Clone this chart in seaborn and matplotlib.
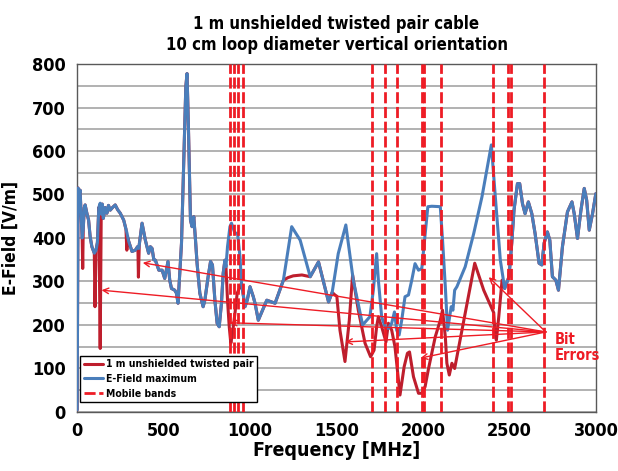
import numpy as np
import matplotlib
matplotlib.use("Agg")
import matplotlib.pyplot as plt
from matplotlib import font_manager as fm
import seaborn as sns

# E-field maximum (blue curve)
blue_freq = [1, 6, 12, 18, 24, 30, 36, 42, 47, 57, 67, 76, 86, 100, 110, 118, 126, 134, 140,
             146, 152, 163, 173, 182, 192, 205, 221, 235, 250, 270, 289, 299, 318, 337, 350,
             357, 376, 395, 414, 424, 434, 444, 453, 473, 492, 507, 526, 536, 546, 565, 575,
             584, 604, 617, 629, 636, 644, 656, 665, 675, 685, 694, 710, 729, 739, 758, 772,
             783, 797, 810, 822, 835, 845, 855, 861, 870, 884, 893, 913, 928, 942, 951, 971,
             984, 1000, 1019, 1029, 1048, 1097, 1145, 1193, 1241, 1290, 1348, 1396, 1454,
             1475, 1510, 1554, 1597, 1651, 1693, 1713, 1732, 1742, 1761, 1780, 1800, 1819,
             1835, 1848, 1862, 1877, 1896, 1916, 1935, 1954, 1974, 1993, 2009, 2028, 2051,
             2100, 2113, 2129, 2142, 2154, 2163, 2173, 2183, 2196, 2244, 2293, 2341, 2395,
             2418, 2447, 2472, 2497, 2513, 2526, 2546, 2559, 2575, 2590, 2609, 2629, 2648,
             2671, 2687, 2700, 2719, 2733, 2748, 2768, 2783, 2806, 2835, 2861, 2874, 2893,
             2913, 2932, 2946, 2961, 2980, 2999]
blue_vals = [5, 515, 500, 510, 450, 400, 420, 470, 476, 457, 441, 403, 380, 365, 372, 390, 470,
             480, 455, 478, 445, 470, 457, 475, 464, 470, 476, 465, 457, 441, 411, 392, 369,
             372, 380, 376, 434, 395, 365, 380, 376, 350, 349, 326, 326, 307, 346, 303, 284,
             280, 273, 250, 388, 579, 748, 778, 656, 441, 426, 449, 395, 342, 273, 242, 257,
             311, 346, 338, 257, 204, 196, 250, 319, 349, 334, 380, 426, 434, 411, 411, 357,
             296, 242, 257, 288, 265, 250, 211, 257, 250, 303, 426, 395, 311, 345, 253, 275,
             364, 430, 303, 200, 219, 280, 364, 303, 219, 196, 192, 204, 230, 188, 177, 211,
             265, 269, 303, 341, 326, 330, 395, 472, 473, 472, 395, 288, 188, 219, 242, 234,
             280, 288, 334, 410, 495, 614, 495, 349, 284, 311, 388, 464, 525, 525, 479, 456,
             483, 456, 410, 342, 338, 388, 414, 395, 311, 303, 280, 380, 460, 483, 456, 399,
             464, 514, 487, 418, 456, 502]

# Twisted pair curve: where it leaves the E-field maximum
dip_freqs = [
    [30, 33, 36],
    [100, 104, 110],
    [126, 134, 140],
    [283, 288, 294],
    [352, 355, 360],
    [861, 870, 880, 889, 899, 913, 926, 942, 951],
    [1193, 1220, 1250, 1300, 1348],
    [1454, 1475, 1491, 1502, 1520, 1549, 1574, 1593, 1626, 1665, 1697, 1717, 1732, 1742,
     1761, 1786, 1800, 1819, 1838, 1867, 1891, 1910, 1922, 1945, 1974, 1993, 2012, 2032,
     2071, 2100, 2113, 2129, 2138, 2152, 2167, 2183, 2244, 2299, 2351, 2409, 2415, 2424,
     2438, 2457, 2472],
]
dip_vals = [
    [400, 330, 420],
    [365, 242, 372],
    [470, 146, 455],
    [420, 372, 400],
    [379, 310, 385],
    [334, 257, 196, 158, 181, 227, 273, 288, 296],
    [303, 309, 313, 315, 311],
    [253, 275, 269, 266, 188, 116, 211, 315, 234, 158, 127, 142, 196, 219, 196, 161, 204,
     188, 150, 39, 104, 135, 138, 81, 43, 43, 58, 100, 173, 211, 234, 173, 112, 85, 112,
     100, 227, 342, 280, 228, 188, 165, 219, 303, 284],
]

mobile_bands = [885, 907, 933, 958, 1705, 1783, 1847, 1992, 2006, 2103, 2405, 2492, 2510, 2702]

bit_errors = [(380, 343), (142, 280), (884, 205), (1551, 161), (1986, 124), (2380, 310)]
arrow_origin = (2710, 184)

# build red curve = blue curve with dips replaced
pts = list(zip(blue_freq, blue_vals))
for fs, vs in zip(dip_freqs, dip_vals):
    lo, hi = fs[0], fs[-1]
    pts = [p for p in pts if p[0] < lo or p[0] > hi] + list(zip(fs, vs))
pts.sort()
red_freq = [p[0] for p in pts]
red_vals = [p[1] for p in pts]

sns.set_theme(style="white")

# pick a condensed bold face if one is installed
family, stretch, scale = 'DejaVu Sans', 'normal', 0.85
cond = {}
for f in fm.fontManager.ttflist:
    if f.stretch in ('condensed', 'semi-condensed', 'extra-condensed') or 'Narrow' in f.name:
        cond.setdefault(f.name, f.stretch)
for name in ['Liberation Sans Narrow', 'Noto Sans', 'DejaVu Sans', 'Open Sans', 'Roboto']:
    if name in cond:
        family, stretch, scale = name, cond[name], 1.0
        break

plt.rcParams['font.family'] = [family, 'DejaVu Sans']
plt.rcParams['font.stretch'] = stretch
plt.rcParams['font.weight'] = 'bold'
plt.rcParams['text.color'] = 'black'
plt.rcParams['axes.labelcolor'] = 'black'
plt.rcParams['xtick.color'] = 'black'
plt.rcParams['ytick.color'] = 'black'

BLUE = '#4a7ebb'
DARKRED = '#be1e2d'
RED = '#ee1c25'

fig = plt.figure(figsize=(6.18, 4.71), dpi=100)
ax = fig.add_axes([0.1246, 0.1253, 0.8398, 0.7388])

sns.lineplot(x=red_freq, y=red_vals, color=DARKRED, lw=2.2, ax=ax, sort=False,
             label='1 m unshielded twisted pair', zorder=3)
sns.lineplot(x=blue_freq, y=blue_vals, color=BLUE, lw=2.2, ax=ax, sort=False,
             label='E-Field maximum', zorder=4)
for i, f in enumerate(mobile_bands):
    ax.axvline(f, color=RED, lw=2.0, dashes=(4, 1.3), zorder=5,
               label='Mobile bands' if i == 0 else None)

for tx, ty in bit_errors:
    ax.annotate('', xy=(tx, ty), xytext=arrow_origin,
                arrowprops=dict(arrowstyle='->', color=RED, lw=1.0,
                                shrinkA=0, shrinkB=0, mutation_scale=10), zorder=6)
ax.text(2760, 148, 'Bit\nErrors', color=RED, fontsize=10.5 * scale, fontweight='bold',
        ha='left', va='center', linespacing=1.1)

ax.set_xlim(0, 3000)
ax.set_ylim(0, 800)
ax.set_xticks(range(0, 3001, 500))
ax.set_xticks(range(0, 3001, 250), minor=True)
ax.set_yticks(range(0, 801, 100))
ax.set_yticks(range(0, 801, 50), minor=True)
ax.grid(axis='y', which='both', color='#ababab', lw=1.3)
ax.set_axisbelow(True)
ax.tick_params(axis='both', which='both', direction='in', length=3, color='#595959',
               labelsize=13 * scale)
ax.tick_params(axis='x', pad=7)
ax.tick_params(axis='y', pad=8)
for t in ax.get_xticklabels() + ax.get_yticklabels():
    t.set_fontweight('bold')
for s in ax.spines.values():
    s.set_color('#595959')
    s.set_linewidth(1.0)

ax.set_xlabel('Frequency [MHz]', fontsize=14 * scale, fontweight='bold', labelpad=1)
ax.set_ylabel('E-Field [V/m]', fontsize=12.5 * scale, fontweight='bold', labelpad=9)
ax.set_title('1 m unshielded twisted pair cable\n10 cm loop diameter vertical orientation',
             fontsize=12 * scale, fontweight='bold', pad=10, linespacing=1.2)

leg = ax.legend(loc='lower left', bbox_to_anchor=(0.006, 0.028), fontsize=7.5 * scale,
                frameon=True, fancybox=False, edgecolor='black', framealpha=1,
                handlelength=1.8, handletextpad=0.3, borderpad=0.35, labelspacing=0.45,
                borderaxespad=0)
leg.get_frame().set_linewidth(1.0)
for t in leg.get_texts():
    t.set_fontweight('bold')

fig.savefig('out.png', dpi=100)
